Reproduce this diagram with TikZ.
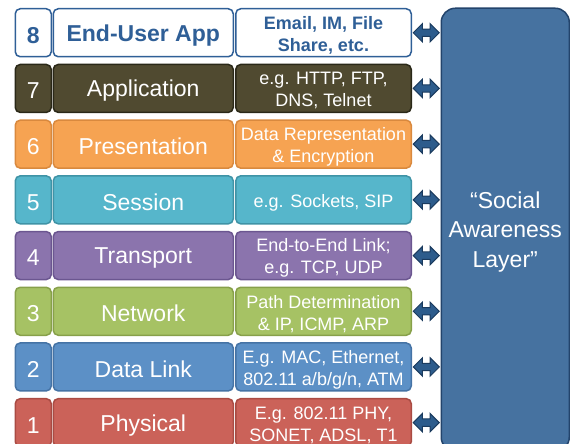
\documentclass[tikz,border=0pt]{standalone}
\usepackage{fontspec}
\setmainfont{Liberation Sans}
\usetikzlibrary{shapes.arrows,calc}
\definecolor{bluetxt}{HTML}{2F5F97}
\definecolor{f7}{HTML}{504A30}\definecolor{b7}{HTML}{2A2818}
\definecolor{f6}{HTML}{F6A352}\definecolor{b6}{HTML}{D9893E}
\definecolor{f5}{HTML}{56B6CB}\definecolor{b5}{HTML}{3F93A6}
\definecolor{f4}{HTML}{8B74AD}\definecolor{b4}{HTML}{6B5690}
\definecolor{f3}{HTML}{A6C264}\definecolor{b3}{HTML}{87A04A}
\definecolor{f2}{HTML}{5C90C6}\definecolor{b2}{HTML}{4573A5}
\definecolor{f1}{HTML}{CB6259}\definecolor{b1}{HTML}{A94B43}
\definecolor{bigfill}{HTML}{4672A0}\definecolor{bigborder}{HTML}{23446C}
\definecolor{arrfill}{HTML}{2D5C8C}\definecolor{arrborder}{HTML}{1B3B5E}
\def\rowweight{}
\tikzset{
  box/.style={draw, line width=1.5pt, rounded corners=5pt, inner sep=0pt,
    anchor=north west, minimum height=48pt},
  numbox/.style={box, minimum width=36pt},
  namebox/.style={box, minimum width=180pt},
  descbox/.style={box, minimum width=175.5pt},
  txt/.style={inner sep=0pt, align=center, text=white},
  bigtxt/.style={txt, font=\fontsize{23}{27}\selectfont\rowweight},
  smalltxt/.style={txt, font=\fontsize{18}{22}\selectfont\rowweight},
  boldrow/.code={\def\rowweight{\bfseries}},
  bigbox/.style={draw=bigborder, fill=bigfill, line width=1.5pt, rounded corners=14pt,
    anchor=north west, minimum width=128pt, minimum height=443pt},
  dblarrow/.style={double arrow, draw=arrborder, fill=arrfill, line width=1pt,
    inner xsep=0pt, inner ysep=3.2pt, minimum height=26pt,
    double arrow head extend=5.5pt}
}
\newcommand\osirow[5]{%
  \pgfmathsetmacro\rowtop{8+(8-#1)*55.7}%
  \node[numbox,#4] (n#1) at (14.5,\rowtop) {};
  \node[namebox,#4] (m#1) at (52.5,\rowtop) {};
  \node[descbox,#4] (d#1) at (235,\rowtop) {};
  \node[bigtxt,#5] (tn#1) at ([yshift=-2.5pt]n#1.center) {#1};
  \node[bigtxt,#5] (tm#1) at ([yshift=-2.5pt]m#1.center) {#2};
  \node[smalltxt,#5] (td#1) at ([yshift=-2.5pt]d#1.center) {#3};
  \node[dblarrow] (a#1) at ($(d#1.east)!0.5!(big.west |- d#1.east)$) {};
}
\begin{document}
\begin{tikzpicture}[x=1pt,y=-1pt]
\clip (0,0) rectangle (570,444);
\node[bigbox] (big) at (440.5,7.5) {};
\node[txt, font=\fontsize{23}{29.5}\selectfont] (bigtext) at ([yshift=-2pt]big.center)
  {\textquotedblleft Social\\Awareness\\Layer\textquotedblright};
\osirow{8}{End-User App}{Email, IM, File\\Share, etc.}{fill=white, draw=bluetxt}{boldrow, text=bluetxt}
\osirow{7}{Application}{e.g. HTTP, FTP,\\DNS, Telnet}{fill=f7, draw=b7}{}
\osirow{6}{Presentation}{Data Representation\\\& Encryption}{fill=f6, draw=b6}{}
\osirow{5}{Session}{e.g. Sockets, SIP}{fill=f5, draw=b5}{}
\osirow{4}{Transport}{End-to-End Link;\\e.g. TCP, UDP}{fill=f4, draw=b4}{}
\osirow{3}{Network}{Path Determination\\\& IP, ICMP, ARP}{fill=f3, draw=b3}{}
\osirow{2}{Data Link}{E.g. MAC, Ethernet,\\802.11 a/b/g/n, ATM}{fill=f2, draw=b2}{}
\osirow{1}{Physical}{E.g. 802.11 PHY,\\SONET, ADSL, T1}{fill=f1, draw=b1}{}
\end{tikzpicture}
\end{document}
